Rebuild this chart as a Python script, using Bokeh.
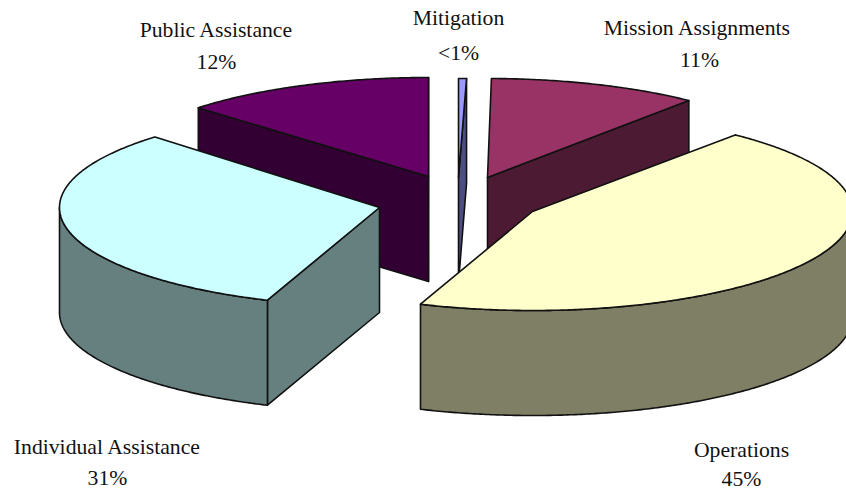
import numpy as np
from bokeh.plotting import figure
from bokeh.models import Range1d
from bokeh.core.properties import value
from bokeh.embed import file_html
from bokeh.resources import INLINE

categories = ["Public Assistance", "Mission Assignments", "Mitigation", "Individual Assistance", "Operations"]
shares = [12, 11, 0.4, 31, 45]
share_labels = ["12%", "11%", "<1%", "31%", "45%"]
top_colors = ["#660066", "#993366", "#9999FF", "#CCFFFF", "#FFFFCC"]
side_colors = ["#330033", "#4D1A33", "#4D4D80", "#667F7F", "#7F7F66"]

# projection of each exploded slice: apex x, apex y, start angle, sweep correction
apex_x = [428, 487, 458, 379, 532]
apex_y = [176, 177, 177, 207, 211]
start_deg = [314, 0.7, 0, 200.5, 39.3]
sweep_fix = [1.065, 0.967, 1.0, 1.03, 0.995]
label_x = [216, 697, 458, 107, 741]
label_y = [29, 27, 17, 446, 449]
pct_x = [216, 699, 458, 107, 741]
pct_y = [61, 59, 52, 477, 478]
RX, RY, DEPTH = 320, 99, 105

p = figure(width=846, height=491, output_backend="svg", toolbar_location=None,
           x_range=Range1d(0, 846), y_range=Range1d(491, 0), min_border=0)
p.axis.visible = False
p.grid.visible = False
p.outline_line_color = None


def rim(cx, cy, a, b):
    t = np.radians(np.linspace(a, b, max(int(abs(b - a)) * 2, 2)))
    return cx + RX * np.sin(t), cy - RY * np.cos(t)


def face(xs, ys, color):
    p.patch(list(xs), list(ys), fill_color=color, line_color="#111111", line_width=1.6, line_join="round")


for i in range(len(shares)):
    cx, cy = apex_x[i], apex_y[i]
    t0 = start_deg[i]
    t1 = t0 + shares[i] * 3.6 * sweep_fix[i]
    # radial walls facing the viewer
    for t, normal in ((t0, t0 - 90), (t1, t1 + 90)):
        if np.cos(np.radians(normal - 180)) > 0:
            ex, ey = rim(cx, cy, t, t)
            ex, ey = ex[0], ey[0]
            face([cx, ex, ex, cx], [cy, ey, ey + DEPTH, cy + DEPTH], side_colors[i])
    # outer wall on the front half
    a, b = max(t0, 90), min(t1, 270)
    if b > a:
        x, y = rim(cx, cy, a, b)
        face(np.r_[x, x[::-1]], np.r_[y, y[::-1] + DEPTH], side_colors[i])
    # top surface
    x, y = rim(cx, cy, t0, t1)
    face(np.r_[cx, x], np.r_[cy, y], top_colors[i])

p.text(label_x, label_y, text=categories, text_font=value("Liberation Serif"), text_font_size="21.7px",
       text_align="center", text_baseline="middle", text_color="#111111")
p.text(pct_x, pct_y, text=share_labels, text_font=value("Liberation Serif"), text_font_size="21.7px",
       text_align="center", text_baseline="middle", text_color="#111111")

open("out.html", "w").write(file_html(p, INLINE))
